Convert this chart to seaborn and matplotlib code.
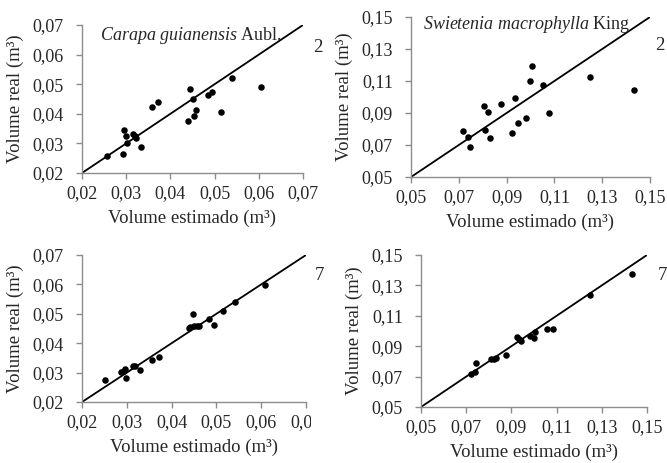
import numpy as np
import pandas as pd
import matplotlib
matplotlib.use("Agg")
import matplotlib.pyplot as plt
import seaborn as sns

# Carapa guianensis - model 2
car_est_2 = [0.0256, 0.0292, 0.0294, 0.0299, 0.0302, 0.0315, 0.0319, 0.0322, 0.0334, 0.0359, 0.0373,
             0.0439, 0.0444, 0.0450, 0.0453, 0.0459, 0.0484, 0.0494, 0.0514, 0.0540, 0.0606]
car_real_2 = [0.0258, 0.0264, 0.0346, 0.0324, 0.0303, 0.0333, 0.0326, 0.0318, 0.0289, 0.0423, 0.0439,
              0.0377, 0.0483, 0.0451, 0.0394, 0.0413, 0.0462, 0.0475, 0.0406, 0.0522, 0.0489]
# Carapa guianensis - model 7
car_est_7 = [0.0252, 0.0288, 0.0293, 0.0297, 0.0299, 0.0313, 0.0319, 0.0330, 0.0357, 0.0371, 0.0438,
             0.0442, 0.0448, 0.0451, 0.0457, 0.0462, 0.0484, 0.0495, 0.0515, 0.0542, 0.0609]
car_real_7 = [0.0274, 0.0303, 0.0307, 0.0313, 0.0281, 0.0322, 0.0321, 0.0309, 0.0342, 0.0353, 0.0451,
              0.0454, 0.0499, 0.0458, 0.0459, 0.0459, 0.0484, 0.0462, 0.0511, 0.0541, 0.0598]
# Swietenia macrophylla - model 2
swi_est_2 = [0.0718, 0.0739, 0.0745, 0.0805, 0.0810, 0.0824, 0.0829, 0.0876, 0.0922, 0.0935, 0.0946,
             0.0983, 0.0999, 0.1005, 0.1052, 0.1076, 0.1247, 0.1431]
swi_real_2 = [0.0790, 0.0748, 0.0686, 0.0945, 0.0796, 0.0904, 0.0746, 0.0957, 0.0775, 0.0991, 0.0840,
              0.0871, 0.1098, 0.1196, 0.1076, 0.0900, 0.1127, 0.1045]
# Swietenia macrophylla - model 7
swi_est_7 = [0.0720, 0.0741, 0.0745, 0.0809, 0.0821, 0.0832, 0.0877, 0.0926, 0.0933, 0.0943, 0.0983,
             0.0998, 0.1005, 0.1057, 0.1082, 0.1247, 0.1434]
swi_real_7 = [0.0718, 0.0727, 0.0790, 0.0817, 0.0817, 0.0821, 0.0845, 0.0961, 0.0950, 0.0937, 0.0965,
              0.0954, 0.0993, 0.1013, 0.1015, 0.1238, 0.1373]

car_ticks = [0.02, 0.03, 0.04, 0.05, 0.06, 0.07]
swi_ticks = [0.05, 0.07, 0.09, 0.11, 0.13, 0.15]

sns.set_style("white")
plt.rcParams["font.family"] = ["Liberation Serif", "DejaVu Serif"]
plt.rcParams["font.size"] = 12
plt.rcParams["mathtext.fontset"] = "custom"
plt.rcParams["mathtext.rm"] = "Liberation Serif"
plt.rcParams["mathtext.it"] = "Liberation Serif:italic"

fig = plt.figure(figsize=(6.67, 4.63), dpi=100)
W, H = 667, 463

def add_ax(x0, x1, ytop, ybot):
    return fig.add_axes([x0 / W, 1 - ybot / H, (x1 - x0) / W, (ybot - ytop) / H])

panels = [
    (add_ax(82, 303, 25, 173), car_est_2, car_real_2, car_ticks, "2", (318, 47)),
    (add_ax(411, 650, 17, 177), swi_est_2, swi_real_2, swi_ticks, "2", (660, 45)),
    (add_ax(82, 306, 255, 402), car_est_7, car_real_7, car_ticks, "7", (319, 275)),
    (add_ax(421, 647, 255, 407), swi_est_7, swi_real_7, swi_ticks, "7", (662, 275)),
]

for ax, xe, yr, ticks, num, pos in panels:
    df = pd.DataFrame({"est": xe, "real": yr})
    sns.scatterplot(data=df, x="est", y="real", ax=ax, color="black", s=22,
                    edgecolor="black", linewidth=0, zorder=3)
    ref = pd.DataFrame({"v": [ticks[0], ticks[-1]]})
    sns.lineplot(data=ref, x="v", y="v", ax=ax, color="black", linewidth=1.3)
    ax.set_xlim(ticks[0], ticks[-1])
    ax.set_ylim(ticks[0], ticks[-1])
    labels = [f"{t:.2f}".replace(".", ",") for t in ticks]
    ax.set_xticks(ticks)
    ax.set_xticklabels(labels)
    ax.set_yticks(ticks)
    ax.set_yticklabels(labels)
    for s in ["top", "right"]:
        ax.spines[s].set_visible(False)
    for s in ["left", "bottom"]:
        ax.spines[s].set_color("#8c8c8c")
        ax.spines[s].set_linewidth(1.0)
    ax.tick_params(axis="both", direction="out", length=4, width=1, color="#8c8c8c",
                   labelsize=13, bottom=True, left=True)
    ax.tick_params(axis="x", pad=5)
    ax.tick_params(axis="y", pad=9)
    ax.set_xlabel("Volume estimado (m³)", fontsize=13.5, labelpad=5)
    ax.set_ylabel("Volume real (m³)", fontsize=13.5, labelpad=6)
    fig.text(pos[0] / W, 1 - pos[1] / H, num, fontsize=13.5, ha="center", va="center")

panels[0][0].text(0.08, 0.93, r"$\it{Carapa\ guianensis}$ Aubl.", transform=panels[0][0].transAxes,
                  fontsize=13, ha="left", va="center")
panels[1][0].text(0.05, 0.95, r"$\it{Swietenia\ macrophylla}$ King", transform=panels[1][0].transAxes,
                  fontsize=13, ha="left", va="center")

# the last x tick label of the lower-left panel is cut off in the original figure
fig.patches.append(plt.Rectangle((311 / W, 1 - 435 / H), 25 / W, 25 / H, transform=fig.transFigure,
                                 facecolor="white", edgecolor="none", zorder=10))

fig.savefig("out.png", dpi=100)
